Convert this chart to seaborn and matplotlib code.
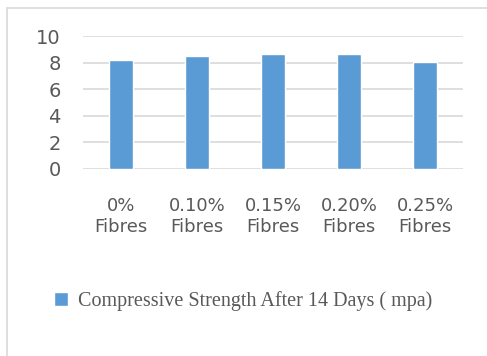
import matplotlib
matplotlib.use("Agg")
import matplotlib.pyplot as plt
from matplotlib.lines import Line2D
import seaborn as sns
import pandas as pd

categories = ["0%\nFibres", "0.10%\nFibres", "0.15%\nFibres", "0.20%\nFibres", "0.25%\nFibres"]
strength_14d = [8.22, 8.52, 8.67, 8.67, 8.06]
series_name = "Compressive Strength After 14 Days ( mpa)"
y_ticks = [0, 2, 4, 6, 8, 10]

bar_color = "#5B9BD5"
grid_color = "#D9D9D9"
text_color = "#595959"

sns.set_theme(style="white")
plt.rcParams["font.family"] = ["DejaVu Sans"]

df = pd.DataFrame({"category": categories, "value": strength_14d})

fig = plt.figure(figsize=(4.87, 3.56), dpi=100)
ax = fig.add_axes([83 / 487, 1 - 169 / 356, 380 / 487, (169 - 36.3) / 356])

sns.barplot(data=df, x="category", y="value", color=bar_color, saturation=1,
            width=0.31, ax=ax, label=series_name, zorder=3)

ax.set_ylim(0, 10)
ax.set_xlim(-0.5, len(categories) - 0.5)
ax.set_yticks(y_ticks)
ax.yaxis.grid(True, color=grid_color, linewidth=1.2, zorder=0)
ax.xaxis.grid(False)
for s in ax.spines.values():
    s.set_visible(False)
ax.set_xlabel("")
ax.set_ylabel("")
ax.tick_params(axis="y", length=0, pad=16, labelsize=14, labelcolor=text_color)
ax.tick_params(axis="x", length=0, pad=20, labelsize=13, labelcolor=text_color)
for lbl in ax.get_xticklabels():
    lbl.set_linespacing(1.2)

if ax.legend_:
    ax.legend_.remove()
handles, labels = ax.get_legend_handles_labels()
fig.legend(handles, labels, loc="center left", bbox_to_anchor=(54 / 487, 1 - 301 / 356),
           frameon=False, borderpad=0, borderaxespad=0, handlelength=0.7,
           handleheight=0.7, handletextpad=0.5,
           prop={"family": "Liberation Serif", "size": 14.5}, labelcolor=text_color)

# light chart-area frame (left and top edges)
fig.add_artist(Line2D([7 / 487, 7 / 487], [0, 1 - 8 / 356], transform=fig.transFigure,
                      color=grid_color, linewidth=1.2))
fig.add_artist(Line2D([7 / 487, 1], [1 - 8 / 356, 1 - 8 / 356], transform=fig.transFigure,
                      color=grid_color, linewidth=1.2))

fig.savefig("out.png", dpi=100, facecolor="white")
